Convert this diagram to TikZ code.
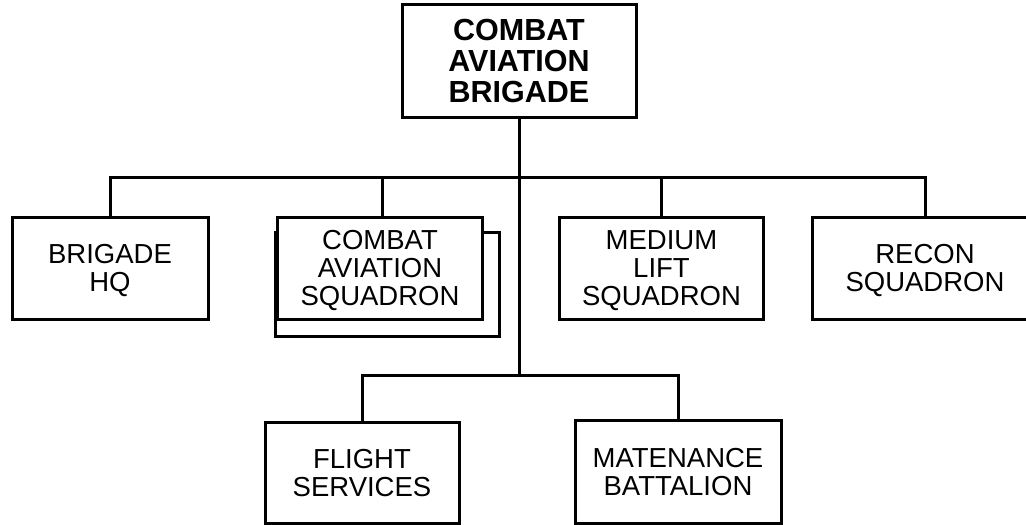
\documentclass[tikz,border=0pt]{standalone}
\usepackage{fontspec}
\setmainfont{Liberation Sans}
\begin{document}
\begin{tikzpicture}[x=1pt,y=-1pt,
  box/.style={draw=black, line width=3pt, fill=white, align=center,
    inner sep=0pt, text depth=0pt, font=\fontsize{27.5}{28}\selectfont},
  conn/.style={draw=black, line width=3pt}]
\useasboundingbox (0,0) rectangle (1026,525);
\clip (0,0) rectangle (1026,525);
\fill[white] (0,0) rectangle (1026,525);
% nodes
\node[box, minimum width=234pt, minimum height=113pt, font=\fontsize{30.5}{31}\selectfont\bfseries] (top) at (519,60.5) {COMBAT\\AVIATION\\BRIGADE};
\node[box, minimum width=196pt, minimum height=102pt] (hq) at (110,268) {BRIGADE\\HQ};
\node[box, minimum width=224pt, minimum height=104pt] (casback) at (387,284) {};
\node[box, minimum width=205pt, minimum height=102pt] (cas) at (380,268) {COMBAT\\AVIATION\\SQUADRON};
\node[box, minimum width=204pt, minimum height=102pt] (mls) at (661.5,268) {MEDIUM\\LIFT\\SQUADRON};
\node[box, minimum width=226pt, minimum height=102pt] (recon) at (925,268) {RECON\\SQUADRON};
\node[box, minimum width=194pt, minimum height=101pt] (flight) at (362,472.5) {FLIGHT\\SERVICES};
\node[box, minimum width=206pt, minimum height=103pt] (mat) at (678,471.5) {MATENANCE\\BATTALION};
% junctions
\coordinate (j1) at (519,177);
\coordinate (j2) at (519,375);
\coordinate (c1) at (382,217);
% connectors
\draw[conn] (top.south) -- (j2);
\draw[conn] (hq.north) |- (j1) -| (recon.north);
\draw[conn] (c1) -- (c1 |- j1);
\draw[conn] (mls.north) -- (mls.north |- j1);
\draw[conn] (flight.north) |- (j2) -| (mat.north);
\end{tikzpicture}
\end{document}
